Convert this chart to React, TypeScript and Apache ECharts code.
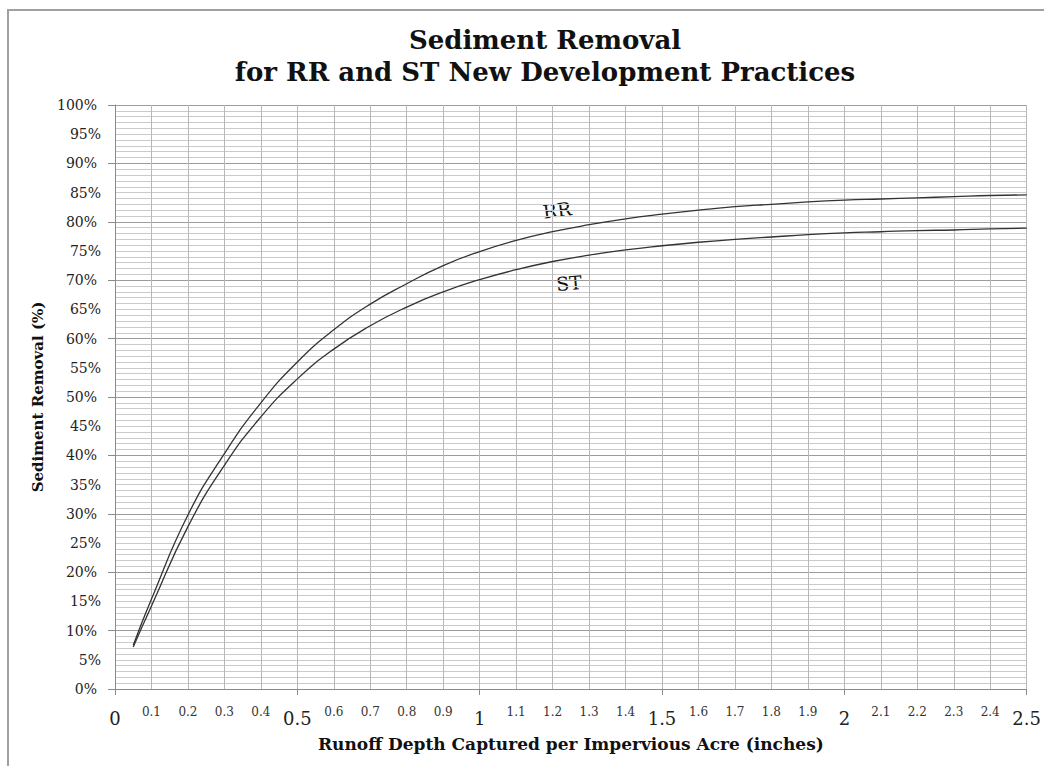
import React, { useEffect, useRef } from "react";
import * as echarts from "echarts";

const xValues = [0.05, 0.1, 0.2, 0.3, 0.4, 0.5, 0.6, 0.7, 0.8, 0.9, 1.0, 1.1, 1.2, 1.3, 1.4, 1.5, 1.6, 1.7, 1.8, 1.9, 2.0, 2.1, 2.2, 2.3, 2.4, 2.5];
const rrValues = [7.5, 15.4, 29.8, 40.3, 49.0, 56.0, 61.5, 65.9, 69.4, 72.5, 74.9, 76.8, 78.3, 79.5, 80.5, 81.3, 82.0, 82.6, 83.0, 83.4, 83.7, 83.9, 84.1, 84.3, 84.5, 84.6];
const stValues = [7.2, 14.2, 27.8, 38.3, 46.6, 53.1, 58.2, 62.2, 65.4, 68.0, 70.1, 71.8, 73.2, 74.3, 75.2, 75.9, 76.5, 77.0, 77.4, 77.8, 78.1, 78.3, 78.5, 78.6, 78.8, 78.9];

const titleLines = ["Sediment Removal", "for RR and ST New Development Practices"];
const xAxisTitle = "Runoff Depth Captured per Impervious Acre (inches)";
const yAxisTitle = "Sediment Removal (%)";
const seriesNames = ["RR", "ST"];

const SERIF = "'DejaVu Serif', 'Liberation Serif', serif";

function isHalfStep(v: number) {
  return Math.abs(v * 2 - Math.round(v * 2)) < 1e-6;
}
function isTenStep(v: number) {
  return Math.abs(v / 10 - Math.round(v / 10)) < 1e-6;
}

export default function App() {
  const ref = useRef<HTMLDivElement>(null);
  useEffect(() => {
    if (!ref.current) return;
    const chart = echarts.init(ref.current, undefined, { renderer: "svg" });
    const option: any = {
      animation: false,
      backgroundColor: "#ffffff",
      grid: { left: 115, top: 105, right: 17, bottom: 77, containLabel: false },
      graphic: [
        {
          type: "rect",
          shape: { x: 8, y: 10, width: 1200, height: 900 },
          style: { fill: "none", stroke: "#a0a0a0", lineWidth: 2 },
          silent: true,
        },
        {
          type: "text",
          x: 545,
          y: 56,
          style: {
            text: titleLines.join("\n"),
            font: "bold 26px " + SERIF,
            textAlign: "center",
            textVerticalAlign: "middle",
            lineHeight: 32,
            fill: "#111",
          },
        },
        {
          type: "text",
          x: 557,
          y: 210,
          rotation: 0.13,
          style: {
            text: seriesNames[0],
            font: "19px " + SERIF,
            textAlign: "center",
            textVerticalAlign: "middle",
            fill: "#111",
          },
        },
        {
          type: "text",
          x: 569,
          y: 283,
          rotation: 0.08,
          style: {
            text: seriesNames[1],
            font: "19px " + SERIF,
            textAlign: "center",
            textVerticalAlign: "middle",
            fill: "#111",
          },
        },
      ],
      xAxis: [
        {
          type: "value",
          position: "bottom",
          min: 0,
          max: 2.5,
          interval: 0.5,
          name: xAxisTitle,
          nameLocation: "middle",
          nameGap: 46,
          nameTextStyle: { fontFamily: SERIF, fontWeight: "bold", fontSize: 17, color: "#111" },
          axisLine: { show: true, lineStyle: { color: "#8a8a8a", width: 1 } },
          axisTick: { show: true, length: 6, lineStyle: { color: "#8a8a8a" } },
          axisLabel: {
            margin: 20,
            fontFamily: SERIF,
            fontSize: 18,
            color: "#222",
            formatter: (v: number) => String(+v.toFixed(1)),
          },
          splitLine: { show: true, lineStyle: { color: "#b8b8b8", width: 1 } },
          minorTick: { show: false, splitNumber: 5 },
          minorSplitLine: { show: true, lineStyle: { color: "#b8b8b8", width: 1 } },
        },
        {
          type: "value",
          position: "bottom",
          min: 0,
          max: 2.5,
          interval: 0.1,
          axisLine: { show: false },
          axisTick: { show: false },
          splitLine: { show: false },
          axisLabel: {
            margin: 17,
            fontFamily: SERIF,
            fontSize: 12,
            color: "#333",
            formatter: (v: number) => (isHalfStep(v) ? "" : String(+v.toFixed(1))),
          },
        },
      ],
      yAxis: [
        {
          type: "value",
          position: "left",
          min: 0,
          max: 100,
          interval: 10,
          name: yAxisTitle,
          nameLocation: "middle",
          nameGap: 70,
          nameTextStyle: { fontFamily: SERIF, fontWeight: "bold", fontSize: 15, color: "#111" },
          axisLine: { show: true, lineStyle: { color: "#8a8a8a", width: 1 } },
          axisTick: { show: true, length: 7, lineStyle: { color: "#8a8a8a" } },
          axisLabel: {
            margin: 18,
            fontFamily: SERIF,
            fontSize: 14,
            color: "#222",
            formatter: (v: number) => Math.round(v) + "%",
          },
          splitLine: { show: true, lineStyle: { color: "#9c9c9c", width: 1 } },
          minorTick: { show: false, splitNumber: 10 },
          minorSplitLine: { show: true, lineStyle: { color: "#cacaca", width: 1 } },
        },
        {
          type: "value",
          position: "left",
          min: 0,
          max: 100,
          interval: 5,
          axisLine: { show: false },
          axisTick: { show: false },
          splitLine: { show: false },
          axisLabel: {
            margin: 14,
            fontFamily: SERIF,
            fontSize: 14,
            color: "#222",
            formatter: (v: number) => (isTenStep(v) ? "" : Math.round(v) + "%"),
          },
        },
      ],
      series: [
        {
          name: seriesNames[0],
          type: "line",
          xAxisIndex: 0,
          yAxisIndex: 0,
          smooth: 0.5,
          showSymbol: false,
          lineStyle: { color: "#333", width: 1.3 },
          data: xValues.map((x, i) => [x, rrValues[i]]),
        },
        {
          name: seriesNames[1],
          type: "line",
          xAxisIndex: 0,
          yAxisIndex: 0,
          smooth: 0.5,
          showSymbol: false,
          lineStyle: { color: "#333", width: 1.3 },
          data: xValues.map((x, i) => [x, stValues[i]]),
        },
      ],
    };
    chart.setOption(option);
    return () => chart.dispose();
  }, []);
  return (
    <div style={{ position: "absolute", left: 0, top: 0, width: 1044, height: 766, background: "#fff" }}>
      <div ref={ref} style={{ width: 1044, height: 766 }} />
    </div>
  );
}
